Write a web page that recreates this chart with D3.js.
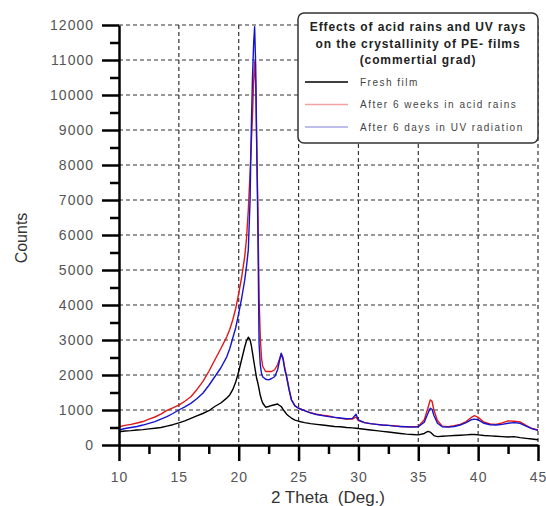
<!DOCTYPE html>
<html>
<head>
<meta charset="utf-8">
<script src="https://cdn.jsdelivr.net/npm/d3@7"></script>
<style>
  body { margin: 0; background: #fff; }
  svg { font-family: "Liberation Sans", Arial, sans-serif; }
</style>
</head>
<body>
<svg width="546" height="506"></svg>
<script>
// 2 theta positions (deg), shared by all three scans
let theta = [10, 10.5, 11, 11.5, 12, 12.5, 13, 13.5, 14, 14.5, 15, 15.5, 16, 16.5, 17, 17.5, 18, 18.5, 19,
  19.25, 19.5, 19.75, 20, 20.25, 20.5, 20.65, 20.8, 20.95, 21.05, 21.15, 21.25, 21.33, 21.42, 21.5, 21.6, 21.7, 21.8, 21.9, 22,
  22.25, 22.5, 22.75, 23, 23.25, 23.4, 23.55, 23.7, 23.85, 24, 24.2, 24.4, 24.7,
  25, 25.5, 26, 26.5, 27, 27.5, 28, 28.5, 29, 29.5, 29.8, 30, 30.5, 31, 31.5, 32, 32.5, 33, 33.5, 34, 34.5, 35,
  35.5, 35.8, 36, 36.15, 36.3, 36.6, 37, 37.5, 38, 38.5, 39, 39.4, 39.7, 40, 40.5, 41, 41.5, 42, 42.5, 43, 43.5, 44, 44.5, 45];

let freshFilm = [380, 400, 410, 430, 440, 460, 480, 500, 540, 580, 630, 690, 760, 830, 900, 980, 1100, 1200, 1340,
  1430, 1580, 1800, 2100, 2450, 2800, 2980, 3080, 3000, 2850, 2640, 2420, 2250, 2060, 1900, 1770, 1600, 1420, 1300, 1200,
  1080, 1100, 1130, 1150, 1170, 1130, 1100, 1020, 950, 880, 820, 770, 710,
  680, 640, 610, 590, 570, 550, 530, 520, 500, 490, 480, 470, 450, 430, 410, 390, 370, 350, 330, 310, 300, 290,
  330, 390, 370, 320, 270, 240, 250, 260, 270, 280, 290, 300, 300, 290, 270, 260, 250, 240, 230, 240, 210, 190, 170, 150];

let acidRain = [520, 560, 590, 630, 670, 740, 800, 880, 990, 1060, 1140, 1250, 1380, 1580, 1810, 2100, 2430, 2750, 3090,
  3300, 3570, 3900, 4330, 4800, 5380, 5900, 6700, 7800, 8600, 9400, 10400, 10950, 10300, 8600, 6800, 4200, 3100, 2500, 2250,
  2100, 2100, 2100, 2150, 2300, 2450, 2600, 2500, 2200, 1950, 1600, 1300, 1120,
  1050, 980, 920, 880, 850, 830, 790, 760, 740, 740, 800, 700, 640, 610, 590, 570, 560, 550, 530, 520, 520, 530,
  720, 1050, 1290, 1250, 1000, 700, 540, 520, 550, 590, 670, 780, 840, 790, 650, 600, 590, 630, 690, 680, 660, 560, 470, 430];

let uvDays = [430, 470, 500, 530, 570, 620, 670, 740, 810, 900, 1000, 1090, 1190, 1320, 1480, 1700, 1950, 2200, 2520,
  2750, 3050, 3350, 3760, 4200, 4710, 5100, 5570, 7000, 9000, 10500, 11500, 11950, 10800, 8700, 6200, 2900, 2300, 2050, 1950,
  1880, 1860, 1900, 1950, 2150, 2400, 2620, 2450, 2150, 1950, 1600, 1290, 1120,
  1050, 980, 920, 870, 840, 810, 790, 770, 750, 760, 880, 720, 640, 610, 590, 570, 560, 540, 530, 520, 510, 520,
  650, 900, 1050, 1020, 850, 620, 520, 510, 530, 570, 640, 720, 740, 720, 620, 580, 570, 590, 620, 640, 620, 540, 470, 420];

let seriesNames = ["Fresh film", "After 6 weeks in acid rains", "After 6 days in UV radiation"];
let seriesColors = ["#000000", "#e01818", "#1414d0"];
let legendColors = ["#000000", "#f2a4a4", "#a8a8e6"];
let legendTitle = ["Effects of acid rains and UV rays", "on the crystallinity of PE- films", "(commertial grad)"];
let xTicks = [10, 15, 20, 25, 30, 35, 40, 45];
let yTicks = d3.range(0, 12001, 1000);

let svg = d3.select("svg"),
  margin = { top: 25, right: 8, bottom: 61, left: 119 },
  width = +svg.attr("width") - margin.left - margin.right,
  height = +svg.attr("height") - margin.top - margin.bottom;

let x = d3.scaleLinear().domain([10, 45]).range([0, width]),
  y = d3.scaleLinear().domain([0, 12000]).range([height, 0]);

let g = svg.append("g").attr("transform", "translate(" + margin.left + "," + margin.top + ")");

// dashed grid
g.append("g").selectAll("line").data(yTicks.slice(1)).enter().append("line")
  .attr("x1", 0).attr("x2", width)
  .attr("y1", d => y(d)).attr("y2", d => y(d))
  .attr("stroke", "#333").attr("stroke-width", 1.2).attr("stroke-dasharray", "4,3");
g.append("g").selectAll("line").data(xTicks.slice(1)).enter().append("line")
  .attr("y1", 0).attr("y2", height)
  .attr("x1", d => x(d)).attr("x2", d => x(d))
  .attr("stroke", "#333").attr("stroke-width", 1.2).attr("stroke-dasharray", "4,3");

// the three scans
let line = d3.line().x((d, i) => x(theta[i])).y(d => y(d));
[freshFilm, acidRain, uvDays].forEach(function (s, i) {
  g.append("path").datum(s)
    .attr("fill", "none")
    .attr("stroke", seriesColors[i])
    .attr("stroke-width", 1.4)
    .attr("stroke-linejoin", "round")
    .attr("d", line);
});

// minor ticks
g.append("g").call(d3.axisLeft(y).tickValues(d3.range(500, 12000, 1000)).tickSize(9).tickFormat(""))
  .call(a => a.select(".domain").remove())
  .selectAll("line").attr("stroke-width", 2.5);
g.append("g").attr("transform", "translate(0," + height + ")")
  .call(d3.axisBottom(x).tickValues(d3.range(12.5, 45, 5)).tickSize(9).tickFormat(""))
  .call(a => a.select(".domain").remove())
  .selectAll("line").attr("stroke-width", 2.5);

// major axes
let yAxis = g.append("g")
  .call(d3.axisLeft(y).tickValues(yTicks).tickFormat(d3.format("d")).tickSize(17).tickPadding(8).tickSizeOuter(0));
let xAxis = g.append("g").attr("transform", "translate(0," + height + ")")
  .call(d3.axisBottom(x).tickValues(xTicks).tickFormat(d3.format("d")).tickSize(16).tickPadding(11).tickSizeOuter(0));
[yAxis, xAxis].forEach(function (a) {
  a.select(".domain").attr("stroke-width", 2.5);
  a.selectAll("line").attr("stroke-width", 2.5);
  a.selectAll("text").attr("font-size", 14).attr("fill", "#555").style("letter-spacing", "1px");
});

// axis titles
svg.append("text").attr("x", 328).attr("y", 503).attr("text-anchor", "middle")
  .attr("font-size", 17).attr("fill", "#333").style("white-space", "pre").text("2 Theta  (Deg.)");
svg.append("text").attr("transform", "translate(27,238) rotate(-90)").attr("text-anchor", "middle")
  .attr("font-size", 16).attr("fill", "#333").text("Counts");

// legend
let legend = svg.append("g").attr("transform", "translate(298,13)");
legend.append("rect").attr("width", 240).attr("height", 130).attr("rx", 6)
  .attr("fill", "#fff").attr("stroke", "#333").attr("stroke-width", 1.5);
legend.selectAll(".title").data(legendTitle).enter().append("text")
  .attr("class", "title")
  .attr("x", 120).attr("y", (d, i) => 18 + i * 16.5)
  .attr("text-anchor", "middle").attr("font-size", 12).attr("font-weight", "bold")
  .attr("fill", "#222").style("letter-spacing", "0.9px")
  .text(d => d);
let item = legend.selectAll(".item").data(seriesNames).enter().append("g")
  .attr("class", "item")
  .attr("transform", (d, i) => "translate(0," + (69 + i * 22.5) + ")");
item.append("line").attr("x1", 7).attr("x2", 50)
  .attr("stroke", (d, i) => legendColors[i]).attr("stroke-width", 1.5);
item.append("text").attr("x", 62).attr("y", 3.5)
  .attr("font-size", 10).attr("fill", "#444").style("letter-spacing", "1.5px")
  .text(d => d);
</script>
</body>
</html>
